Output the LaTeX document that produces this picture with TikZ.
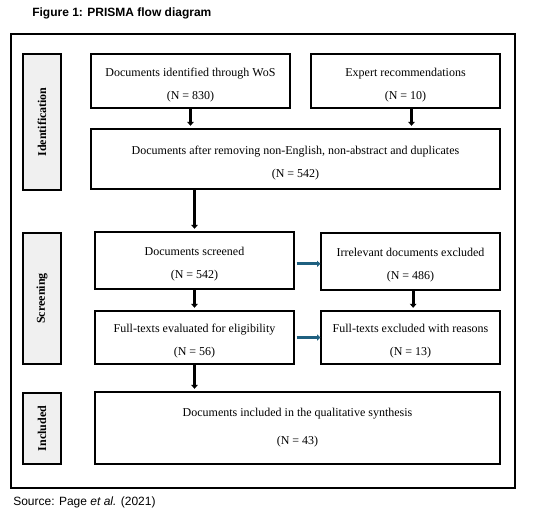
\documentclass[tikz,border=0pt]{standalone}
\usepackage{fontspec}
\setmainfont{Liberation Serif}
\newfontfamily\arialfont{Liberation Sans}
\usepackage{xcolor}
\usepackage{tikz}
\usetikzlibrary{arrows.meta,calc}
\definecolor{stagegray}{RGB}{240,240,240}
\definecolor{exclteal}{RGB}{31,96,128}
\newcommand{\stepgap}{\rule{0pt}{12pt}}

\tikzset{
  stepbox/.style={draw,line width=0.8pt,align=center,inner sep=0pt,
    font=\fontsize{9}{17}\selectfont},
  stagebox/.style={draw,line width=0.8pt,fill=stagegray,inner sep=0pt,
    minimum width=28.5pt},
  stagelabel/.style={rotate=90,font=\fontsize{9}{11}\selectfont\bfseries},
  flowarrow/.style={line width=2.2pt,-{Triangle[length=3pt,width=5pt]},shorten >=2pt},
  exclarrow/.style={exclteal,line width=2.2pt,-{Triangle[length=2.5pt,width=4.5pt]},shorten <=1.5pt}
}

\begin{document}
\begin{tikzpicture}[x=0.75pt,y=-0.75pt]

    \useasboundingbox (0,0) rectangle (545,513);

    % Title and outer frame
    \node[anchor=west,inner sep=0pt,font=\arialfont\fontsize{9}{11}\selectfont\bfseries]
      (title) at (32,13.5) {Figure 1: PRISMA flow diagram};
    \draw[line width=0.8pt] (11,34) rectangle (515,488);

    % Stage labels (left column)
    \node[stagebox,minimum height=102pt] (identside) at (42,122) {};
    \node[stagelabel] at (identside) {Identification};
    \node[stagebox,minimum height=98.25pt] (screenside) at (42,298.5) {};
    \node[stagelabel] at (screenside) {Screening};
    \node[stagebox,minimum height=53.25pt] (inclside) at (42,428.5) {};
    \node[stagelabel] at (inclside) {Included};

    % Identification
    \node[stepbox,minimum width=149.25pt,minimum height=40.5pt] (wos) at (190.5,81)
      {\stepgap Documents identified through WoS\\(N = 830)};
    \node[stepbox,minimum width=141.75pt,minimum height=40.5pt] (expert) at (405.5,81)
      {\stepgap Expert recommendations\\(N = 10)};
    \node[stepbox,minimum width=306.75pt,minimum height=45pt] (dedup) at (295.5,159)
      {\stepgap Documents after removing non-English, non-abstract and duplicates\\(N = 542)};

    % Screening
    \node[stepbox,minimum width=149.25pt,minimum height=42.75pt] (screened) at (194.5,260.5)
      {\stepgap Documents screened\\(N = 542)};
    \node[stepbox,minimum width=134.25pt,minimum height=42.75pt] (irrelevant) at (410.5,261.5)
      {\stepgap Irrelevant documents excluded\\(N = 486)};
    \node[stepbox,minimum width=149.25pt,minimum height=39.75pt] (eligible) at (194.5,337.5)
      {\stepgap Full-texts evaluated for eligibility\\(N = 56)};
    \node[stepbox,minimum width=134.25pt,minimum height=39.75pt] (reasons) at (410.5,337.5)
      {\stepgap Full-texts excluded with reasons\\(N = 13)};

    % Included
    \node[stepbox,minimum width=303.75pt,minimum height=54pt,
      font=\fontsize{9}{21}\selectfont] (included) at (297.5,428)
      {Documents included in the qualitative synthesis\\(N = 43)};

    % Vertical flow
    \draw[flowarrow] (wos.south) -- (wos.south |- dedup.north);
    \draw[flowarrow] ([xshift=4.5pt]expert.south) -- ([xshift=4.5pt]expert.south |- dedup.north);
    \draw[flowarrow] (screened.north |- dedup.south) -- (screened.north);
    \draw[flowarrow] (screened) -- (eligible);
    \draw[flowarrow] ([xshift=2pt]irrelevant.south) -- ([xshift=2pt]irrelevant.south |- reasons.north);
    \draw[flowarrow] (eligible.south) -- (eligible.south |- included.north);

    % Exclusions
    \draw[exclarrow] ([yshift=-2.5pt]screened.east) -- ([yshift=-2.5pt]screened.east -| irrelevant.west);
    \draw[exclarrow] (eligible.east) -- (eligible.east -| reasons.west);

    % Source
    \node[anchor=west,inner sep=0pt,font=\arialfont\fontsize{9}{11}\selectfont]
      (source) at (13,502) {Source: Page \textit{et al.} (2021)};

  \end{tikzpicture}
\end{document}
